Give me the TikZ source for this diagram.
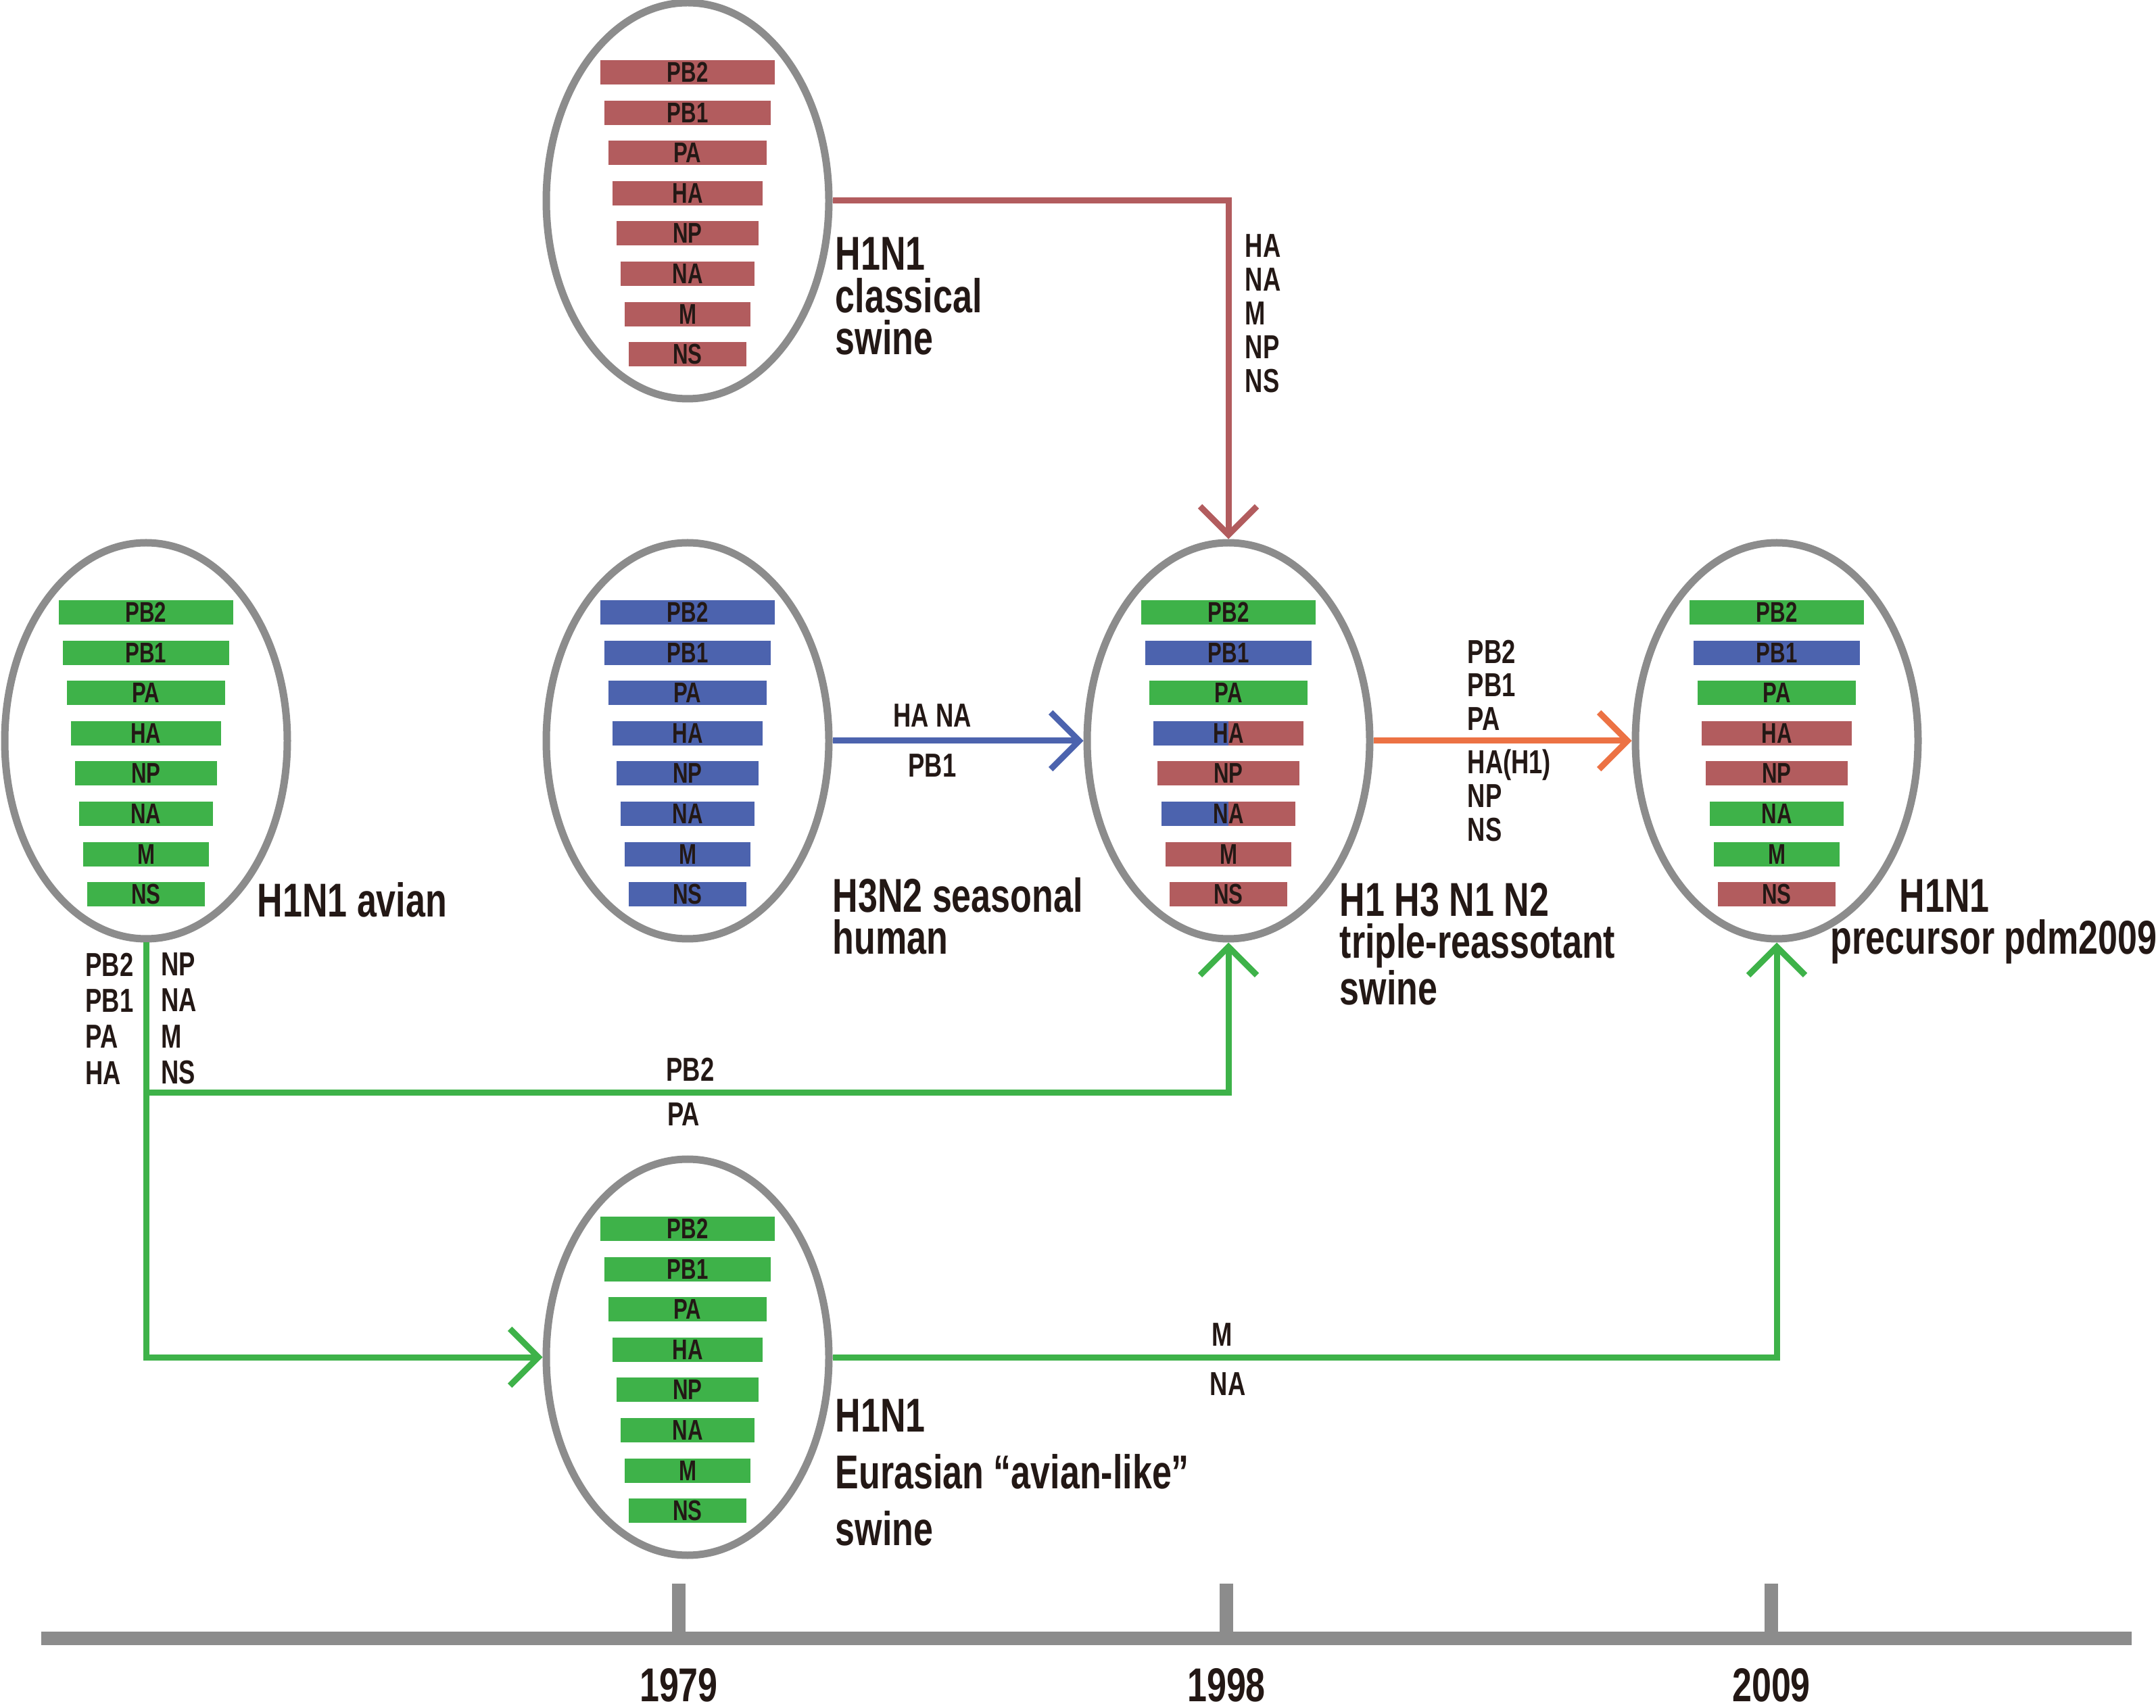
\documentclass[tikz,border=0pt]{standalone}
\usepackage{fontspec}
\setmainfont{Liberation Sans}[FakeStretch=0.74]
\usetikzlibrary{shapes.geometric,arrows.meta}
\definecolor{sr}{RGB}{178,92,94}
\definecolor{sg}{RGB}{62,178,73}
\definecolor{sb}{RGB}{76,99,174}
\definecolor{so}{RGB}{236,114,68}
\definecolor{ring}{RGB}{140,140,140}
\definecolor{ink}{RGB}{35,24,21}
\begin{document}
\begin{tikzpicture}[strain/.style={ellipse, draw=ring, line width=1.1mm, minimum width=41.8mm, minimum height=58.6mm, inner sep=0pt},
	seg/.style={font=\bfseries\fontsize{12}{12}\selectfont, text=ink, inner sep=0pt},
	title/.style={font=\bfseries\fontsize{20}{17.9}\selectfont, text=ink, align=left, anchor=base west, inner sep=0pt},
	gene/.style={font=\bfseries\fontsize{14}{14.2}\selectfont, text=ink, align=left, inner sep=0pt},
	flow/.style={line width=0.9mm, -{Straight Barb[length=4.2mm,width=8.4mm]}},
	axis/.style={draw=ring, line width=2mm},
	year/.style={font=\bfseries\fontsize{20}{20}\selectfont, text=ink, inner sep=0pt}]
	\useasboundingbox (0,0) rectangle (31.89,-25.27);

	\node[strain] (classical) at (10.17,-2.97) {};
	\node[strain] (avian) at (2.16,-10.96) {};
	\node[strain] (human) at (10.17,-10.96) {};
	\node[strain] (triple) at (18.17,-10.96) {};
	\node[strain] (pdm) at (26.28,-10.96) {};
	\node[strain] (eurasian) at (10.17,-20.08) {};

	% eight segments per strain, left/right colour
	\foreach \nd/\segs in {
		classical/{PB2/sr/sr,PB1/sr/sr,PA/sr/sr,HA/sr/sr,NP/sr/sr,NA/sr/sr,M/sr/sr,NS/sr/sr},
		avian/{PB2/sg/sg,PB1/sg/sg,PA/sg/sg,HA/sg/sg,NP/sg/sg,NA/sg/sg,M/sg/sg,NS/sg/sg},
		human/{PB2/sb/sb,PB1/sb/sb,PA/sb/sb,HA/sb/sb,NP/sb/sb,NA/sb/sb,M/sb/sb,NS/sb/sb},
		triple/{PB2/sg/sg,PB1/sb/sb,PA/sg/sg,HA/sb/sr,NP/sr/sr,NA/sb/sr,M/sr/sr,NS/sr/sr},
		pdm/{PB2/sg/sg,PB1/sb/sb,PA/sg/sg,HA/sr/sr,NP/sr/sr,NA/sg/sg,M/sg/sg,NS/sr/sr},
		eurasian/{PB2/sg/sg,PB1/sg/sg,PA/sg/sg,HA/sg/sg,NP/sg/sg,NA/sg/sg,M/sg/sg,NS/sg/sg}}{
		\begin{scope}[shift={(\nd.center)}]
			\foreach \s/\cl/\cr [count=\i from 0] in \segs {
				\fill[\cl] ({-1.29+0.0595*\i},{1.72-0.596*\i}) rectangle (0,{2.08-0.596*\i});
				\fill[\cr] (0,{1.72-0.596*\i}) rectangle ({1.29-0.0595*\i},{2.08-0.596*\i});
				\node[seg] (\nd-\s) at (0,{1.90-0.596*\i}) {\s};
			}
		\end{scope}
	}

	% base = last line
	\node[title] (classical-name) at (12.35,-5.25) {H1N1\\classical\\swine};
	\node[title] (avian-name) at (3.80,-13.57) {H1N1 avian};
	\node[title] (human-name) at (12.31,-14.12) {H3N2 seasonal\\human};
	\node[title] (triple-name) at (19.81,-14.87) {H1 H3 N1 N2\\triple-reassotant\\swine};
	\node[title] (pdm-name) at (27.07,-14.12) {\hspace*{1.02cm}H1N1\\precursor pdm2009};
	\node[title] (eurasian-name) at (12.35,-22.86) {H1N1\\[6pt]Eurasian “avian-like”\\[6pt]swine};

	\coordinate (fork) at (2.16,-16.17);
	\draw[flow, sr] (classical.east) -| (triple.north);
	\draw[flow, sb] (human.east) -- (triple.west);
	\draw[flow, so] (triple.east) -- (pdm.west);
	\draw[flow, sg] (avian.south) |- (eurasian.west);
	\draw[flow, sg] (fork) -| (triple.south);
	\draw[flow, sg] (eurasian.east) -| (pdm.south);

	\node[gene, anchor=north west] (red-genes) at (18.41,-3.46) {HA\\NA\\M\\NP\\NS};
	\node[gene, anchor=north] (blue-top) at (13.79,-10.41) {HA NA};
	\node[gene, anchor=north] (blue-bot) at (13.79,-11.15) {PB1};
	\node[gene, anchor=north west] (orange-top) at (21.70,-9.46) {PB2\\PB1\\PA};
	\node[gene, anchor=north west] (orange-bot) at (21.70,-11.08) {HA(H1)\\NP\\NS};
	\node[gene, anchor=north west, font=\bfseries\fontsize{14}{15.2}\selectfont] (avian-left) at (1.26,-14.09) {PB2\\PB1\\PA\\HA};
	\node[gene, anchor=north west, font=\bfseries\fontsize{14}{15.2}\selectfont] (avian-right) at (2.38,-14.09) {NP\\NA\\M\\NS};
	\node[gene, anchor=north] (fork-top) at (10.21,-15.64) {PB2};
	\node[gene, anchor=north] (fork-bot) at (10.11,-16.31) {PA};
	\node[gene, anchor=north] (green-top) at (18.08,-19.57) {M};
	\node[gene, anchor=north] (green-bot) at (18.16,-20.30) {NA};

	% time line
	\draw[axis] (0.61,-24.24) -- (31.53,-24.24);
	\foreach \yr/\x in {1979/10.04,1998/18.14,2009/26.20}{
		\draw[axis] (\x,-24.24) -- (\x,-23.43);
		\node[year] (y\yr) at (\x,-24.93) {\yr};
	}
\end{tikzpicture}
\end{document}
